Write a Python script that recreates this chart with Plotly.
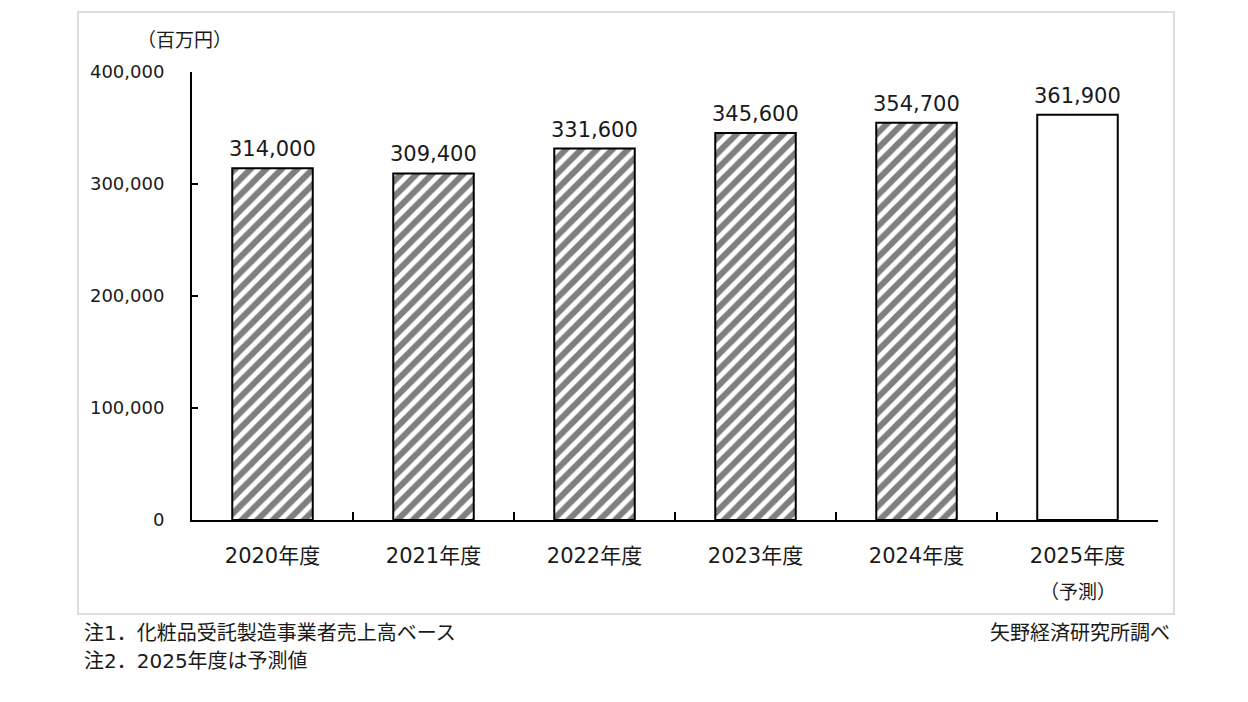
import plotly.graph_objects as go

categories = ["2020年度", "2021年度", "2022年度", "2023年度", "2024年度", "2025年度"]
values = [314000, 309400, 331600, 345600, 354700, 361900]
is_forecast = [False, False, False, False, False, True]
y_ticks = [0, 100000, 200000, 300000, 400000]
y_tick_labels = ["0", "100,000", "200,000", "300,000", "400,000"]
unit_label = "（百万円）"
forecast_label = "（予測）"
note1 = "注1．化粧品受託製造事業者売上高ベース"
note2 = "注2．2025年度は予測値"
source = "矢野経済研究所調べ"

FONT = "DejaVu Sans, Noto Sans CJK JP, sans-serif"
TXT = "#1a1a1a"

W, H = 1248, 702
L, R, T, B = 192, 1158, 72, 520
def px(x):
    return (x - L) / (R - L)
def py(y):
    return (B - y) / (B - T)

fig = go.Figure()
fig.add_trace(go.Bar(
    x=categories,
    y=values,
    width=0.5,
    marker=dict(
        color="white",
        line=dict(color="black", width=2),
        pattern=dict(
            shape=["" if f else "/" for f in is_forecast],
            fgcolor="black",
            bgcolor="white",
            size=11,
            solidity=0.55,
        ),
    ),
    hoverinfo="skip",
))

annotations = []
for c, v in zip(categories, values):
    annotations.append(dict(
        x=c, y=v, xref="x", yref="y", text=f"{v:,}", showarrow=False,
        yanchor="bottom", yshift=5, font=dict(family=FONT, size=21, color=TXT),
    ))
annotations += [
    dict(x=px(184), y=py(40), xref="paper", yref="paper", text=unit_label,
         showarrow=False, xanchor="center", yanchor="middle",
         font=dict(family=FONT, size=19, color=TXT)),
    dict(x=categories[-1], y=py(592), xref="x", yref="paper", text=forecast_label,
         showarrow=False, xanchor="center", yanchor="middle",
         font=dict(family=FONT, size=19, color=TXT)),
    dict(x=px(82), y=py(633), xref="paper", yref="paper", text=note1,
         showarrow=False, xanchor="left", yanchor="middle",
         font=dict(family=FONT, size=20, color=TXT)),
    dict(x=px(82), y=py(661), xref="paper", yref="paper", text=note2,
         showarrow=False, xanchor="left", yanchor="middle",
         font=dict(family=FONT, size=20, color=TXT)),
    dict(x=px(1172), y=py(633), xref="paper", yref="paper", text=source,
         showarrow=False, xanchor="right", yanchor="middle",
         font=dict(family=FONT, size=20, color=TXT)),
]

fig.update_layout(
    width=W, height=H,
    margin=dict(l=L, r=W - R, t=T, b=H - B),
    paper_bgcolor="white", plot_bgcolor="white",
    showlegend=False,
    annotations=annotations,
    shapes=[dict(type="rect", xref="paper", yref="paper",
                 x0=px(78), x1=px(1174), y0=py(614), y1=py(12),
                 line=dict(color="#d4d4d4", width=1.5), layer="below")],
    xaxis=dict(
        type="category", showgrid=False, showline=True, linecolor="black", linewidth=2,
        ticks="inside", tickson="boundaries", ticklen=8, tickcolor="black", tickwidth=1.5,
        tickfont=dict(family=FONT, size=21, color=TXT), ticklabelstandoff=16,
        range=[-0.5, 5.5], fixedrange=True,
    ),
    yaxis=dict(
        range=[0, 400000], tickvals=y_ticks, ticktext=y_tick_labels,
        showgrid=False, showline=True, linecolor="black", linewidth=2,
        ticks="inside", ticklen=6, tickcolor="black", tickwidth=1.5,
        tickfont=dict(family=FONT, size=18, color=TXT), ticklabelstandoff=22,
        zeroline=False, fixedrange=True,
    ),
)

fig.write_html("out.html")
